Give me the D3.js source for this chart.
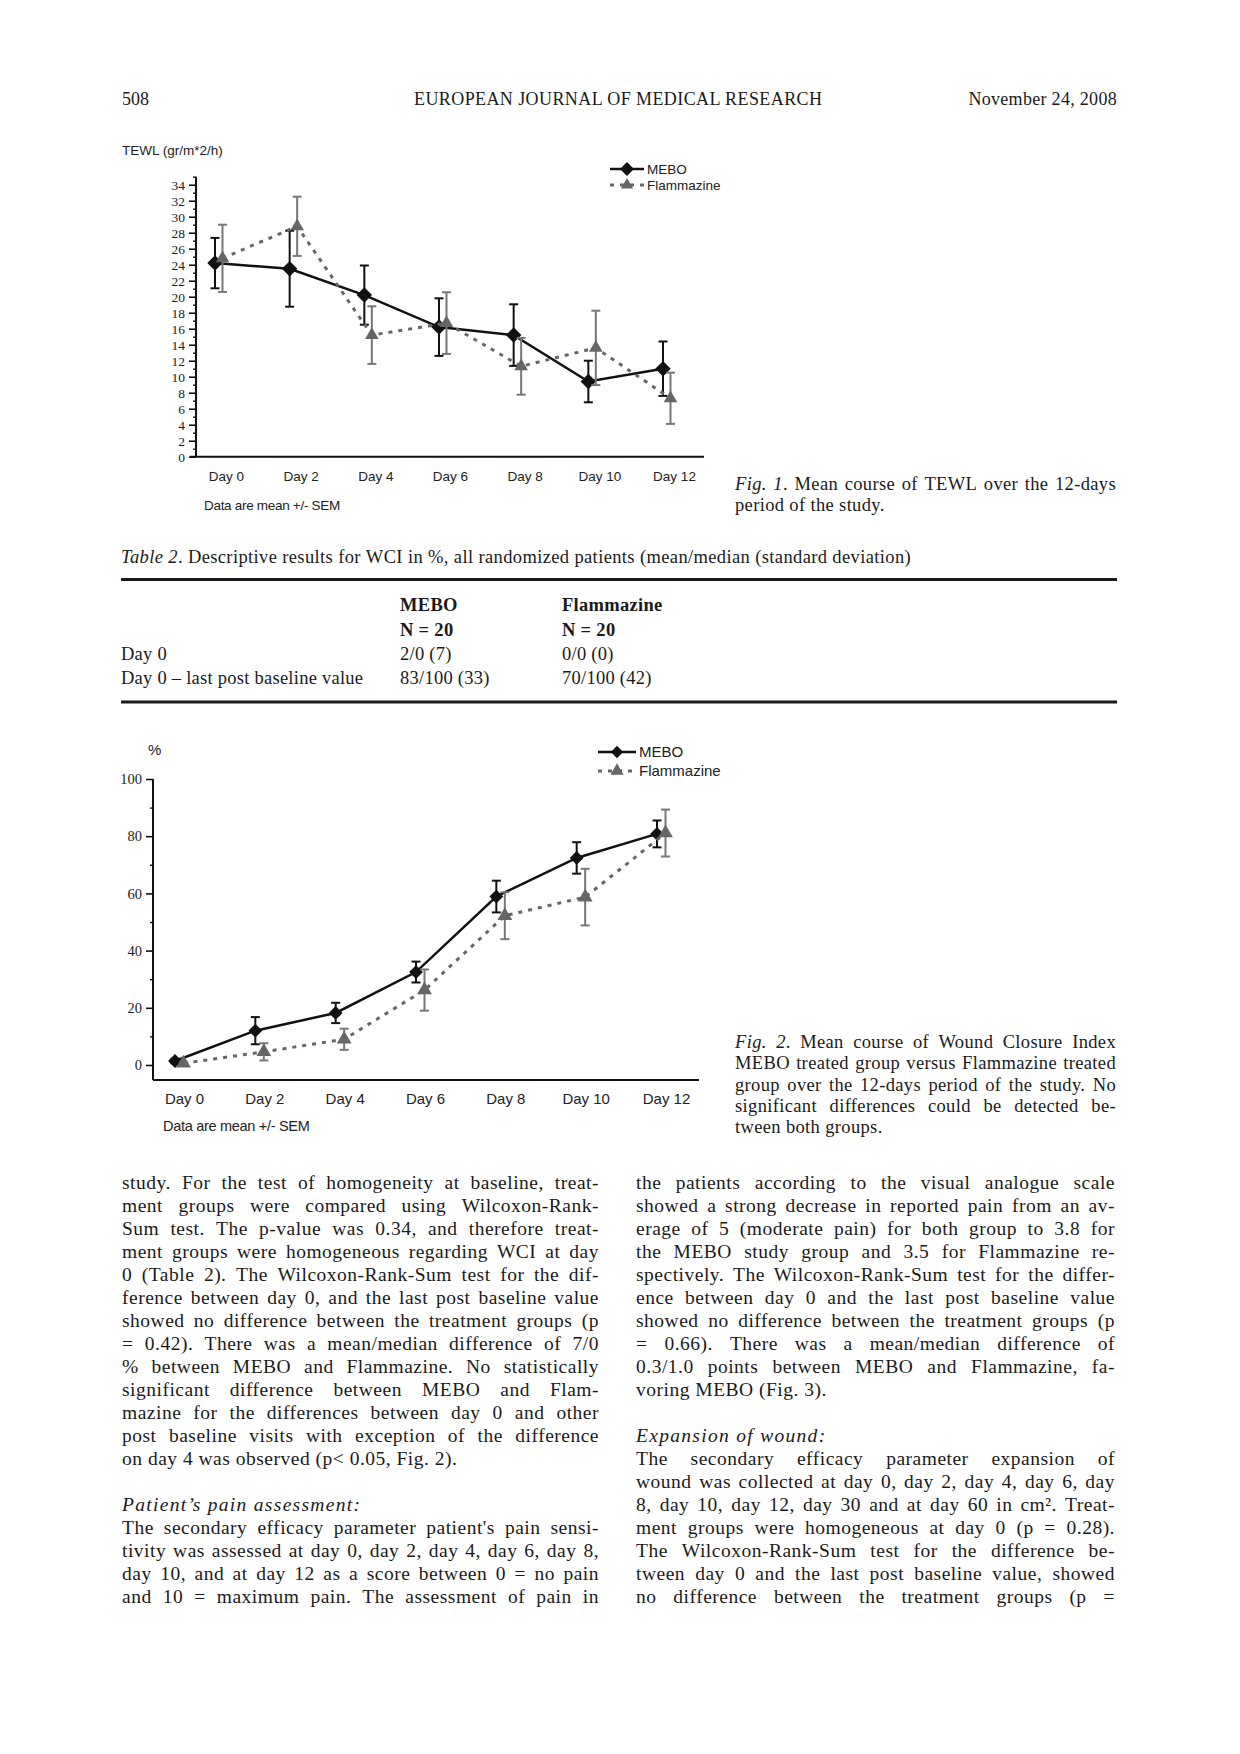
<!DOCTYPE html>
<html><head><meta charset="utf-8">
<script src="https://cdn.jsdelivr.net/npm/d3@7"></script>
<style>body{margin:0;background:#fff;} svg{display:block}</style>
</head><body>
<script>
// ---------- DATA ----------
const days = ["Day 0","Day 2","Day 4","Day 6","Day 8","Day 10","Day 12"];
const seriesNames = ["MEBO","Flammazine"];
// Fig. 1 TEWL (gr/m*2/h), mean and SEM
const tewlMebo    = [24.2, 23.5, 20.2, 16.2, 15.2, 9.4, 11.0];
const tewlMeboSem = [3.15, 4.75, 3.7, 3.6, 3.85, 2.6, 3.4];
const tewlFlam    = [24.8, 28.8, 15.2, 16.7, 11.3, 13.6, 7.3];
const tewlFlamSem = [4.2, 3.7, 3.6, 3.85, 3.55, 4.65, 3.2];
const tewlTicks   = [0,2,4,6,8,10,12,14,16,18,20,22,24,26,28,30,32,34];
const tewlMinor   = [1,3,5,7,9,11,13,15,17,19,21,23,25,27,29,31,33,35];
// Fig. 2 Wound Closure Index (%), mean and SEM
const wciMebo     = [1.4, 12.0, 18.2, 32.5, 58.9, 72.4, 80.8];
const wciMeboSem  = [0.8, 4.75, 3.55, 3.65, 5.55, 5.5, 4.7];
const wciFlam     = [0.6, 4.6, 9.0, 26.2, 52.2, 58.7, 81.1];
const wciFlamSem  = [0.4, 3.0, 3.7, 7.2, 8.2, 9.9, 8.2];
const wciTicks    = [0,20,40,60,80,100];
const wciMinor    = [10,30,50,70,90];
// Table 2
const tableCols   = ["MEBO","Flammazine"];
const tableN      = ["N = 20","N = 20"];
const tableRows   = ["Day 0","Day 0 – last post baseline value"];
const tableMebo   = ["2/0 (7)","83/100 (33)"];
const tableFlam   = ["0/0 (0)","70/100 (42)"];

// ---------- PAGE ----------
const SERIF = "'Liberation Serif','Times New Roman',serif";
const SANS = "'Liberation Sans',Arial,sans-serif";
const INK = "#1a1a1a";
const svg = d3.select("body").append("svg").attr("width",1240).attr("height",1754);
svg.append("rect").attr("width",1240).attr("height",1754).attr("fill","#fff");

function parseWord(w){
  const segs=[]; const re=/\*([^*]+)\*|([^*]+)/g; let m;
  while((m=re.exec(w))) segs.push(m[1]!==undefined?{s:m[1],it:true}:{s:m[2],it:false});
  return segs;
}
function textLine(parent, str, x, y, width, justify, size, opts={}){
  const g = parent.append("g");
  const words = str.split(" ");
  const ls = opts.ls || 0;
  const nodes = words.map(w=>{
    const t = g.append("text").attr("y",y).attr("font-family",SERIF).attr("font-size",size)
      .attr("fill",INK).attr("letter-spacing",ls);
    if(opts.italic) t.attr("font-style","italic");
    if(opts.bold) t.attr("font-weight","bold");
    parseWord(w).forEach(sg=>t.append("tspan").attr("font-style",sg.it?"italic":null).text(sg.s));
    return t;
  });
  let widths = nodes.map(n=>n.node().getComputedTextLength());
  let total = d3.sum(widths);
  const minGap = 3.5;
  if(justify && words.length>1 && total + minGap*(words.length-1) > width){
    const k = (width - minGap*(words.length-1))/total;
    nodes.forEach(n=>n.attr("font-size",size*k).attr("letter-spacing",ls*k));
    widths = nodes.map(n=>n.node().getComputedTextLength());
    total = d3.sum(widths);
  }
  let gap = size*0.25 + ls;
  if(justify && words.length>1) gap = (width-total)/(words.length-1);
  let cx = x;
  nodes.forEach((n,i)=>{ n.attr("x",cx); cx += widths[i]+gap; });
}
function paragraph(lines, x, y0, lh, width, size, ls){
  lines.forEach((l,i)=>{
    if(!l.t) return;
    textLine(svg, l.t, x, y0+i*lh, width, l.j!==false, size, {italic:l.it, ls:(l.ls!==undefined?l.ls:ls)});
  });
}

// Header
svg.append("text").attr("x",122).attr("y",105).attr("font-family",SERIF).attr("font-size",18).attr("fill",INK).text("508");
svg.append("text").attr("x",618).attr("y",105).attr("text-anchor","middle").attr("font-family",SERIF).attr("font-size",18)
  .attr("textLength",408).attr("lengthAdjust","spacing").attr("fill",INK).text("EUROPEAN JOURNAL OF MEDICAL RESEARCH");
svg.append("text").attr("x",1117).attr("y",105).attr("text-anchor","end").attr("font-family",SERIF).attr("font-size",18)
  .attr("letter-spacing",0.3).attr("fill",INK).text("November 24, 2008");

// ---------- CHARTS ----------
function drawChart(o){
  const g = svg.append("g");
  const y = d3.scaleLinear().domain(o.yDomain).range(o.yRange);
  const x = d3.scalePoint().domain(days).range(o.xRange);
  const xl = d3.scalePoint().domain(days).range(o.xRange.map(v=>v+o.labelOff));

  const ax = g.append("g").attr("transform",`translate(${o.axisX},0)`)
    .call(d3.axisLeft(y).tickValues(o.ticks).tickSize(o.majorTick).tickSizeOuter(0).tickPadding(o.pad));
  ax.select(".domain").remove();
  ax.selectAll("line").attr("stroke","#111").attr("stroke-width",1.6);
  ax.selectAll("text").attr("font-family",SERIF).attr("font-size",o.tickFont).attr("fill","#222");
  const mx = g.append("g").attr("transform",`translate(${o.axisX},0)`)
    .call(d3.axisLeft(y).tickValues(o.minor).tickSize(o.minorTick).tickSizeOuter(0).tickFormat(""));
  mx.select(".domain").remove();
  mx.selectAll("line").attr("stroke","#111").attr("stroke-width",1.4);

  g.append("line").attr("x1",o.axisX).attr("x2",o.axisX).attr("y1",o.axisTop).attr("y2",o.xAxisY)
    .attr("stroke","#111").attr("stroke-width",2);
  g.append("line").attr("x1",o.xAxisL).attr("x2",o.xAxisR).attr("y1",o.xAxisY).attr("y2",o.xAxisY)
    .attr("stroke","#111").attr("stroke-width",2);

  const bx = g.append("g").attr("transform",`translate(0,${o.labelBase})`)
    .call(d3.axisBottom(xl).tickSize(0).tickPadding(0));
  bx.select(".domain").remove();
  bx.selectAll("text").attr("dy",0).attr("y",0).attr("font-family",SANS).attr("font-size",o.labFont).attr("fill","#222");

  g.append("text").attr("x",o.titleX).attr("y",o.titleY).attr("font-family",SANS).attr("font-size",o.titleFont)
    .attr("fill","#222").text(o.title);
  g.append("text").attr("x",o.noteX).attr("y",o.noteY).attr("font-family",SANS).attr("font-size",o.noteFont)
    .attr("letter-spacing",-0.3).attr("fill","#222").text("Data are mean +/- SEM");

  const series = [
    {v:o.mebo, s:o.meboSem, dx:0, col:"#111", ecol:"#111", w:2.5, dash:null, sym:d3.symbolSquare, size:o.diaSize, rot:45},
    {v:o.flam, s:o.flamSem, dx:o.flamOff, col:"#666", ecol:"#777", w:3, dash:"4,6", sym:d3.symbolTriangle, size:o.triSize, rot:0}
  ];
  series.forEach(sr=>{
    const pts = days.map((d,i)=>[x(d)+sr.dx, y(sr.v[i]), sr.s[i], sr.v[i]]);
    g.append("path").attr("d",d3.line()(pts.map(p=>[p[0],p[1]]))).attr("fill","none")
      .attr("stroke",sr.col).attr("stroke-width",sr.w).attr("stroke-dasharray",sr.dash);
    const cw = 4.5;
    pts.forEach(p=>{
      const yt=y(p[3]+p[2]), yb=y(p[3]-p[2]);
      g.append("line").attr("x1",p[0]).attr("x2",p[0]).attr("y1",yt).attr("y2",yb).attr("stroke",sr.ecol).attr("stroke-width",2);
      g.append("line").attr("x1",p[0]-cw).attr("x2",p[0]+cw).attr("y1",yt).attr("y2",yt).attr("stroke",sr.ecol).attr("stroke-width",2);
      g.append("line").attr("x1",p[0]-cw).attr("x2",p[0]+cw).attr("y1",yb).attr("y2",yb).attr("stroke",sr.ecol).attr("stroke-width",2);
    });
    pts.forEach(p=>{
      g.append("path").attr("d",d3.symbol(sr.sym,sr.size)()).attr("fill",sr.col)
        .attr("transform",`translate(${p[0]},${p[1]}) rotate(${sr.rot})`);
    });
  });

  // legend
  seriesNames.forEach((nm,i)=>{
    const sr = series[i]; const ly = o.legY[i];
    g.append("line").attr("x1",o.legX1).attr("x2",o.legX2).attr("y1",ly).attr("y2",ly)
      .attr("stroke",sr.col).attr("stroke-width",sr.w).attr("stroke-dasharray",sr.dash);
    g.append("path").attr("d",d3.symbol(sr.sym,sr.size*0.8)()).attr("fill",sr.col)
      .attr("transform",`translate(${(o.legX1+o.legX2)/2},${ly}) rotate(${sr.rot})`);
    g.append("text").attr("x",o.legText).attr("y",ly+5).attr("font-family",SANS).attr("font-size",o.legFont)
      .attr("fill","#222").text(nm);
  });
}

drawChart({
  yDomain:[0,35], yRange:[456.7,176.7], xRange:[215,663], labelOff:11, flamOff:7.5,
  axisX:196, axisTop:176.7, xAxisY:456.7, xAxisL:190, xAxisR:704,
  ticks:tewlTicks, minor:tewlMinor, majorTick:7, minorTick:3, pad:4, tickFont:13.5,
  labelBase:481, labFont:13.5,
  title:"TEWL (gr/m*2/h)", titleX:122, titleY:155, titleFont:13.5,
  noteX:204, noteY:510, noteFont:13.5,
  mebo:tewlMebo, meboSem:tewlMeboSem, flam:tewlFlam, flamSem:tewlFlamSem,
  diaSize:120, triSize:80,
  legX1:610, legX2:644, legText:647, legY:[169,185], legFont:13.5
});

drawChart({
  yDomain:[0,100], yRange:[1065,779], xRange:[175,657], labelOff:9, flamOff:8.5,
  axisX:153, axisTop:779, xAxisY:1080, xAxisL:153, xAxisR:699,
  ticks:wciTicks, minor:wciMinor, majorTick:7, minorTick:3, pad:4, tickFont:14.5,
  labelBase:1104, labFont:15,
  title:"%", titleX:148, titleY:755, titleFont:15,
  noteX:163, noteY:1131, noteFont:14.5,
  mebo:wciMebo, meboSem:wciMeboSem, flam:wciFlam, flamSem:wciFlamSem,
  diaSize:95, triSize:95,
  legX1:598, legX2:636, legText:639, legY:[752,771], legFont:15
});

// ---------- CAPTIONS ----------
paragraph([
  {t:"*Fig.* *1*. Mean course of TEWL over the 12-days"},
  {t:"period of the study.", j:false}
], 735, 490, 21.3, 381, 18.5, 0.35);

paragraph([
  {t:"*Fig.* *2*. Mean course of Wound Closure Index"},
  {t:"MEBO treated group versus Flammazine treated"},
  {t:"group over the 12-days period of the study. No"},
  {t:"significant differences could be detected be-"},
  {t:"tween both groups.", j:false}
], 735, 1048, 21.3, 381, 18.5, 0.35);

// ---------- TABLE ----------
textLine(svg, "*Table* *2*. Descriptive results for WCI in %, all randomized patients (mean/median (standard deviation)", 121, 562.5, 0, false, 18.5, {ls:0.37});
svg.append("line").attr("x1",121).attr("x2",1117).attr("y1",579.5).attr("y2",579.5).attr("stroke",INK).attr("stroke-width",3);
svg.append("line").attr("x1",121).attr("x2",1117).attr("y1",702).attr("y2",702).attr("stroke",INK).attr("stroke-width",3);
const colX = [400, 562];
tableCols.forEach((c,i)=>svg.append("text").attr("x",colX[i]).attr("y",611).attr("font-family",SERIF).attr("font-weight","bold")
  .attr("font-size",18.5).attr("letter-spacing",0.3).attr("fill",INK).text(c));
tableN.forEach((c,i)=>svg.append("text").attr("x",colX[i]).attr("y",635.5).attr("font-family",SERIF).attr("font-weight","bold")
  .attr("font-size",18.5).attr("letter-spacing",0.3).attr("fill",INK).text(c));
tableRows.forEach((r,i)=>{
  const yy = 660 + i*23.8;
  svg.append("text").attr("x",121).attr("y",yy).attr("font-family",SERIF).attr("font-size",18.5).attr("letter-spacing",0.25).attr("fill",INK).text(r);
  svg.append("text").attr("x",colX[0]).attr("y",yy).attr("font-family",SERIF).attr("font-size",18.5).attr("letter-spacing",0.25).attr("fill",INK).text(tableMebo[i]);
  svg.append("text").attr("x",colX[1]).attr("y",yy).attr("font-family",SERIF).attr("font-size",18.5).attr("letter-spacing",0.25).attr("fill",INK).text(tableFlam[i]);
});

// ---------- BODY TEXT ----------
paragraph([
  {t:"study. For the test of homogeneity at baseline, treat-"},
  {t:"ment groups were compared using Wilcoxon-Rank-"},
  {t:"Sum test. The p-value was 0.34, and therefore treat-"},
  {t:"ment groups were homogeneous regarding WCI at day"},
  {t:"0 (Table 2). The Wilcoxon-Rank-Sum test for the dif-"},
  {t:"ference between day 0, and the last post baseline value"},
  {t:"showed no difference between the treatment groups (p"},
  {t:"= 0.42). There was a mean/median difference of 7/0"},
  {t:"% between MEBO and Flammazine. No statistically"},
  {t:"significant difference between MEBO and Flam-"},
  {t:"mazine for the differences between day 0 and other"},
  {t:"post baseline visits with exception of the difference"},
  {t:"on day 4 was observed (p< 0.05, Fig. 2).", j:false},
  {t:""},
  {t:"Patient’s pain assessment:", j:false, it:true, ls:1.3},
  {t:"The secondary efficacy parameter patient's pain sensi-"},
  {t:"tivity was assessed at day 0, day 2, day 4, day 6, day 8,"},
  {t:"day 10, and at day 12 as a score between 0 = no pain"},
  {t:"and 10 = maximum pain. The assessment of pain in"}
], 122, 1189, 23.0, 477, 19.5, 0.5);

paragraph([
  {t:"the patients according to the visual analogue scale"},
  {t:"showed a strong decrease in reported pain from an av-"},
  {t:"erage of 5 (moderate pain) for both group to 3.8 for"},
  {t:"the MEBO study group and 3.5 for Flammazine re-"},
  {t:"spectively. The Wilcoxon-Rank-Sum test for the differ-"},
  {t:"ence between day 0 and the last post baseline value"},
  {t:"showed no difference between the treatment groups (p"},
  {t:"= 0.66). There was a mean/median difference of"},
  {t:"0.3/1.0 points between MEBO and Flammazine, fa-"},
  {t:"voring MEBO (Fig. 3).", j:false},
  {t:""},
  {t:"Expansion of wound:", j:false, it:true, ls:1.3},
  {t:"The secondary efficacy parameter expansion of"},
  {t:"wound was collected at day 0, day 2, day 4, day 6, day"},
  {t:"8, day 10, day 12, day 30 and at day 60 in cm². Treat-"},
  {t:"ment groups were homogeneous at day 0 (p = 0.28)."},
  {t:"The Wilcoxon-Rank-Sum test for the difference be-"},
  {t:"tween day 0 and the last post baseline value, showed"},
  {t:"no difference between the treatment groups (p ="}
], 636, 1189, 23.0, 479, 19.5, 0.5);
</script>
</body></html>
